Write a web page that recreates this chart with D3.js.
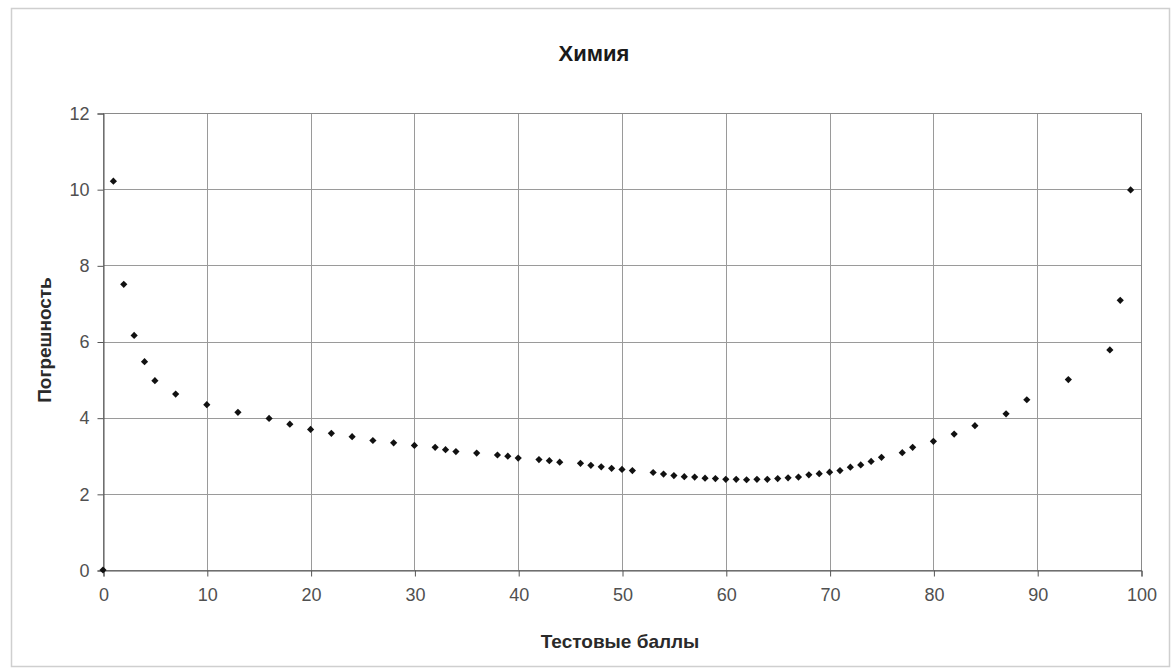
<!DOCTYPE html>
<html>
<head>
<meta charset="utf-8">
<script src="https://cdn.jsdelivr.net/npm/d3@7/dist/d3.min.js"></script>
<style>
  html, body { margin: 0; padding: 0; background: #fff; }
  svg { display: block; }
</style>
</head>
<body>
<svg id="chart" width="1176" height="671"></svg>
<script>
const chartTitle = "Химия";
const xTitle = "Тестовые баллы";
const yTitle = "Погрешность";
const xTicks = [0, 10, 20, 30, 40, 50, 60, 70, 80, 90, 100];
const yTicks = [0, 2, 4, 6, 8, 10, 12];
const scores = [0,1,2,3,4,5,7,10,13,16,18,20,22,24,26,28,30,32,33,34,36,38,39,40,42,43,44,46,47,48,49,50,51,53,54,55,56,57,58,59,60,61,62,63,64,65,66,67,68,69,70,71,72,73,74,75,77,78,80,82,84,87,89,93,97,98,99];
const errors = [0,10.21,7.5,6.16,5.47,4.97,4.62,4.34,4.14,3.98,3.83,3.69,3.59,3.50,3.40,3.34,3.27,3.22,3.16,3.11,3.07,3.02,2.99,2.94,2.90,2.87,2.83,2.80,2.75,2.71,2.67,2.64,2.61,2.56,2.52,2.48,2.45,2.44,2.41,2.40,2.38,2.38,2.37,2.38,2.38,2.40,2.42,2.44,2.50,2.53,2.57,2.61,2.70,2.76,2.85,2.96,3.08,3.22,3.38,3.57,3.79,4.10,4.47,5.00,5.78,7.08,9.98];

const data = scores.map((s, i) => ({ x: s, y: errors[i] }));

const svg = d3.select("#chart");
const plot = { left: 103, right: 1141, top: 113, bottom: 570 };

const x = d3.scaleLinear().domain([0, 100]).range([plot.left, plot.right]);
const y = d3.scaleLinear().domain([0, 12]).range([plot.bottom, plot.top]);

const font = "Arial, 'Liberation Sans', sans-serif";

// outer chart border
svg.append("rect")
  .attr("x", 11.5).attr("y", 8.5)
  .attr("width", 1158).attr("height", 658)
  .attr("fill", "#fff").attr("stroke", "#cfcfcf").attr("stroke-width", 1.5);

// gridlines
const grid = svg.append("g");
grid.selectAll(".gx").data(xTicks).join("line")
  .attr("x1", d => Math.round(x(d)) + 0.5).attr("x2", d => Math.round(x(d)) + 0.5)
  .attr("y1", plot.top).attr("y2", plot.bottom)
  .attr("stroke", "#9a9a9a").attr("stroke-width", 1);
grid.selectAll(".gy").data(yTicks).join("line")
  .attr("y1", d => Math.round(y(d)) + 0.5).attr("y2", d => Math.round(y(d)) + 0.5)
  .attr("x1", plot.left).attr("x2", plot.right)
  .attr("stroke", "#9a9a9a").attr("stroke-width", 1);

// plot frame
svg.append("rect")
  .attr("x", plot.left + 0.5).attr("y", plot.top + 0.5)
  .attr("width", plot.right - plot.left).attr("height", plot.bottom - plot.top)
  .attr("fill", "none").attr("stroke", "#8a8a8a").attr("stroke-width", 1);

// axes
const xAxis = svg.append("g")
  .attr("transform", `translate(0.5,${plot.bottom + 0.5})`)
  .call(d3.axisBottom(x).tickValues(xTicks).tickSize(6).tickPadding(12).tickFormat(d3.format("d")));
const yAxis = svg.append("g")
  .attr("transform", `translate(${plot.left + 0.5},0.5)`)
  .call(d3.axisLeft(y).tickValues(yTicks).tickSize(6).tickPadding(8).tickFormat(d3.format("d")));

[xAxis, yAxis].forEach(g => {
  g.select(".domain").attr("stroke", "#555");
  g.selectAll(".tick line").attr("stroke", "#555");
  g.selectAll(".tick text")
    .attr("fill", "#505050")
    .style("font-family", font)
    .style("font-size", "18px");
});

// points (Excel-style diamond markers: square rotated 45°)
svg.append("g").selectAll("path").data(data).join("path")
  .attr("transform", d => `translate(${x(d.x)},${y(d.y)}) rotate(45)`)
  .attr("d", d3.symbol().type(d3.symbolSquare).size(26))
  .attr("fill", "#111");

// titles
svg.append("text")
  .attr("x", 594).attr("y", 61)
  .attr("text-anchor", "middle")
  .style("font-family", font).style("font-size", "22px").style("font-weight", "bold")
  .attr("fill", "#1a1a1a")
  .text(chartTitle);

svg.append("text")
  .attr("x", 620).attr("y", 648)
  .attr("text-anchor", "middle")
  .style("font-family", font).style("font-size", "19px").style("font-weight", "bold")
  .attr("fill", "#2a2a2a")
  .text(xTitle);

svg.append("text")
  .attr("transform", "translate(51,340) rotate(-90)")
  .attr("text-anchor", "middle")
  .style("font-family", font).style("font-size", "19px").style("font-weight", "bold")
  .attr("fill", "#2a2a2a")
  .text(yTitle);
</script>
</body>
</html>
